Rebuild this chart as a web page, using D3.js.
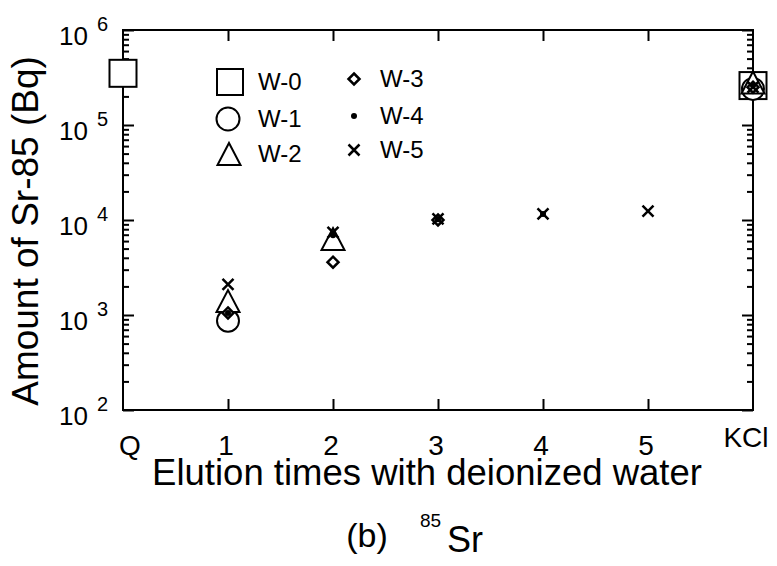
<!DOCTYPE html>
<html>
<head>
<meta charset="utf-8">
<script src="https://cdn.jsdelivr.net/npm/d3@7"></script>
<style>
  body { margin: 0; background: #fff; }
  svg text { font-family: "Liberation Sans", Arial, Helvetica, sans-serif; fill: #000; }
</style>
</head>
<body>
<div id="chart"></div>
<script>
// categories along the x axis
const categories = ['Q', '1', '2', '3', '4', '5', 'KCl'];
const seriesNames = ['W-0', 'W-1', 'W-2', 'W-3', 'W-4', 'W-5'];
const markerTypes = ['square', 'circle', 'triangle', 'diamond', 'dot', 'cross'];

// amount of Sr-85 (Bq), one value per category, null = not measured
const w0 = [3.5e5, null, null, null, null, null, 2.6e5];
const w1 = [null, 870, null, null, null, null, 2.4e5];
const w2 = [null, 1400, 6300, null, null, null, 2.8e5];
const w3 = [null, 1050, 3600, 1.0e4, null, null, 2.5e5];
const w4 = [null, 1050, 6900, 1.02e4, 1.16e4, null, 2.6e5];
const w5 = [null, 2100, 7400, 1.03e4, 1.16e4, 1.24e4, 2.5e5];
const seriesValues = [w0, w1, w2, w3, w4, w5];

const xTickValues = ['1', '2', '3', '4', '5'];
const yDomain = [1e2, 1e6];

function drawChart() {
    let svgWidth = 777,
        svgHeight = 566,
        plotLeft = 123, plotRight = 753, plotTop = 30, plotBottom = 410,
        svg = d3.select('#chart').append('svg')
                .attr('width', svgWidth)
                .attr('height', svgHeight);

    let xScale = d3.scalePoint().domain(categories).range([plotLeft, plotRight]).padding(0),
        yScale = d3.scaleLog().domain(yDomain).range([plotBottom, plotTop]);

    // frame
    svg.append('rect')
       .attr('x', plotLeft).attr('y', plotTop)
       .attr('width', plotRight - plotLeft).attr('height', plotBottom - plotTop)
       .attr('fill', 'none').attr('stroke', '#000').attr('stroke-width', 2);

    // x ticks, bottom and top, pointing inward
    let xBottom = svg.append('g').attr('transform', `translate(0, ${plotBottom})`)
                     .call(d3.axisBottom(xScale).tickValues(xTickValues)
                             .tickSizeInner(-11).tickSizeOuter(0).tickFormat(''));
    let xTop = svg.append('g').attr('transform', `translate(0, ${plotTop})`)
                  .call(d3.axisTop(xScale).tickValues(xTickValues)
                          .tickSizeInner(-11).tickSizeOuter(0).tickFormat(''));
    [xBottom, xTop].forEach(g => {
        g.select('.domain').remove();
        g.selectAll('.tick line').attr('stroke-width', 2);
    });

    // x labels
    let labelDx = {Q: 7, KCl: -7},
        labelY = {KCl: 447};
    svg.append('g').selectAll('text')
       .data(categories).enter().append('text')
       .attr('x', d => xScale(d) + (labelDx[d] !== undefined ? labelDx[d] : -2))
       .attr('y', d => labelY[d] || 455)
       .attr('text-anchor', 'middle')
       .attr('font-size', 28)
       .text(d => d);

    // y ticks (log), left and right, inward
    let yTicks = yScale.ticks(),
        isMajor = v => Math.abs(Math.log10(v) - Math.round(Math.log10(v))) < 1e-9;
    let yLeft = svg.append('g').attr('transform', `translate(${plotLeft}, 0)`)
                   .call(d3.axisLeft(yScale).tickValues(yTicks).tickSizeOuter(0).tickFormat(''));
    let yRight = svg.append('g').attr('transform', `translate(${plotRight}, 0)`)
                    .call(d3.axisRight(yScale).tickValues(yTicks).tickSizeOuter(0).tickFormat(''));
    yLeft.select('.domain').remove();
    yRight.select('.domain').remove();
    yLeft.selectAll('.tick line').attr('x2', d => isMajor(d) ? 11 : 6).attr('stroke-width', 2);
    yRight.selectAll('.tick line').attr('x2', d => isMajor(d) ? -11 : -6).attr('stroke-width', 2);

    // y labels 10^n
    let majors = yTicks.filter(isMajor);
    let yLabels = svg.append('g').selectAll('g')
                     .data(majors).enter().append('g');
    yLabels.append('text')
           .attr('x', 88).attr('y', d => yScale(d) + 15)
           .attr('text-anchor', 'end').attr('font-size', 26)
           .text('10');
    yLabels.append('text')
           .attr('x', 97).attr('y', d => yScale(d) + 1)
           .attr('font-size', 20)
           .text(d => Math.round(Math.log10(d)));

    // axis titles
    svg.append('text')
       .attr('transform', 'translate(38, 231) rotate(-90)')
       .attr('text-anchor', 'middle').attr('font-size', 37)
       .text('Amount of Sr-85 (Bq)');
    svg.append('text')
       .attr('x', 427).attr('y', 485)
       .attr('text-anchor', 'middle').attr('font-size', 36.5)
       .text('Elution times with deionized water');

    // caption
    svg.append('text').attr('x', 367).attr('y', 547)
       .attr('text-anchor', 'middle').attr('font-size', 34).text('(b)');
    svg.append('text').attr('x', 420).attr('y', 527)
       .attr('font-size', 19).text('85');
    svg.append('text').attr('x', 447).attr('y', 552)
       .attr('font-size', 36).text('Sr');

    // data markers
    let points = svg.append('g').attr('class', 'points');
    seriesValues.forEach((values, si) => {
        values.forEach((v, ci) => {
            if (v === null) return;
            drawMarker(points, markerTypes[si], xScale(categories[ci]), yScale(v));
        });
    });

    // legend
    let legend = svg.append('g').attr('class', 'legend'),
        legendPos = [
            [230, 82, 258], [228, 119, 258], [229, 154, 258],
            [354, 79, 380], [354, 116, 380], [354, 150, 380]
        ];
    seriesNames.forEach((name, i) => {
        let p = legendPos[i];
        drawMarker(legend, markerTypes[i], p[0], p[1], true);
        legend.append('text')
              .attr('x', p[2]).attr('y', p[1] + 8)
              .attr('font-size', 24)
              .text(name);
    });
}

function drawMarker(g, type, cx, cy, inLegend) {
    let sw = 2;
    if (type === 'square') {
        let s = inLegend ? 26 : 27;
        g.append('rect').attr('x', cx - s / 2).attr('y', cy - s / 2)
         .attr('width', s).attr('height', s)
         .attr('fill', '#fff').attr('stroke', '#000').attr('stroke-width', sw);
    } else if (type === 'circle') {
        g.append('circle').attr('cx', cx).attr('cy', cy).attr('r', inLegend ? 11.5 : 11)
         .attr('fill', '#fff').attr('stroke', '#000').attr('stroke-width', sw);
    } else if (type === 'triangle') {
        let h = 11, w = 11.5;
        g.append('path')
         .attr('d', `M${cx},${cy - h}L${cx + w},${cy + h}L${cx - w},${cy + h}Z`)
         .attr('fill', '#fff').attr('stroke', '#000').attr('stroke-width', sw)
         .attr('stroke-linejoin', 'miter');
    } else if (type === 'diamond') {
        let r = 5.5;
        g.append('path')
         .attr('d', `M${cx},${cy - r}L${cx + r},${cy}L${cx},${cy + r}L${cx - r},${cy}Z`)
         .attr('fill', '#fff').attr('stroke', '#000').attr('stroke-width', 2.5);
    } else if (type === 'dot') {
        g.append('circle').attr('cx', cx).attr('cy', cy).attr('r', 3).attr('fill', '#000');
    } else if (type === 'cross') {
        let r = 5.5;
        g.append('path')
         .attr('d', `M${cx - r},${cy - r}L${cx + r},${cy + r}M${cx - r},${cy + r}L${cx + r},${cy - r}`)
         .attr('stroke', '#000').attr('stroke-width', 2.5).attr('fill', 'none');
    }
}

drawChart();
</script>
</body>
</html>
